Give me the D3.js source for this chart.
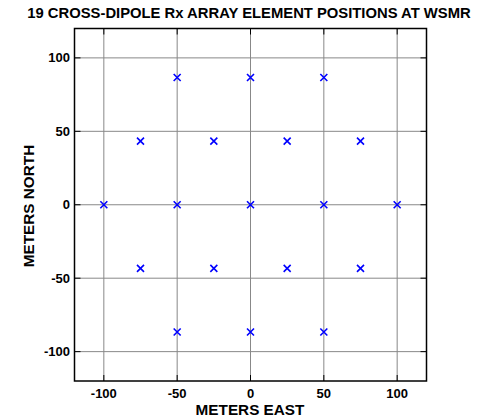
<!DOCTYPE html>
<html>
<head>
<meta charset="utf-8">
<script src="https://cdn.jsdelivr.net/npm/d3@7"></script>
<style>
  html, body { margin: 0; padding: 0; background: #fff; }
  svg { display: block; font-family: "Liberation Sans", Arial, sans-serif; }
</style>
</head>
<body>
<svg id="chart" width="494" height="417"></svg>
<script>
// Receiver element positions (meters east / meters north)
const eastPositions  = [-50, 0, 50, -75, -25, 25, 75, -100, -50, 0, 50, 100, -75, -25, 25, 75, -50, 0, 50];
const northPositions = [86.6, 86.6, 86.6, 43.3, 43.3, 43.3, 43.3, 0, 0, 0, 0, 0, -43.3, -43.3, -43.3, -43.3, -86.6, -86.6, -86.6];
const xTicks = [-100, -50, 0, 50, 100];
const yTicks = [-100, -50, 0, 50, 100];
const titleText = "19 CROSS-DIPOLE Rx ARRAY ELEMENT POSITIONS AT WSMR";
const xLabel = "METERS EAST";
const yLabel = "METERS NORTH";

const svg = d3.select("#chart");
const plotLeft = 74.5, plotRight = 426.5, plotTop = 28.5, plotBottom = 381;

const x = d3.scaleLinear().domain([-120, 120]).range([plotLeft, plotRight]);
const y = d3.scaleLinear().domain([-120, 120]).range([plotBottom, plotTop]);

// grid
svg.append("g").selectAll("line").data(xTicks).join("line")
  .attr("x1", d => x(d)).attr("x2", d => x(d))
  .attr("y1", plotTop).attr("y2", plotBottom)
  .attr("stroke", "#888").attr("stroke-width", 1);
svg.append("g").selectAll("line").data(yTicks).join("line")
  .attr("y1", d => y(d)).attr("y2", d => y(d))
  .attr("x1", plotLeft).attr("x2", plotRight)
  .attr("stroke", "#888").attr("stroke-width", 1);

// inward ticks on all four sides
const tl = 6;
const tickG = svg.append("g").attr("stroke", "#000").attr("stroke-width", 1);
xTicks.forEach(t => {
  tickG.append("line").attr("x1", x(t)).attr("x2", x(t)).attr("y1", plotBottom).attr("y2", plotBottom - tl);
  tickG.append("line").attr("x1", x(t)).attr("x2", x(t)).attr("y1", plotTop).attr("y2", plotTop + tl);
});
yTicks.forEach(t => {
  tickG.append("line").attr("y1", y(t)).attr("y2", y(t)).attr("x1", plotLeft).attr("x2", plotLeft + tl);
  tickG.append("line").attr("y1", y(t)).attr("y2", y(t)).attr("x1", plotRight).attr("x2", plotRight - tl);
});

// box
svg.append("rect").attr("x", plotLeft).attr("y", plotTop)
  .attr("width", plotRight - plotLeft).attr("height", plotBottom - plotTop)
  .attr("fill", "none").attr("stroke", "#000").attr("stroke-width", 1.5);

// markers
const s = 3.5;
svg.append("g").selectAll("path").data(d3.zip(eastPositions, northPositions)).join("path")
  .attr("d", d => `M${x(d[0]) - s},${y(d[1]) - s}L${x(d[0]) + s},${y(d[1]) + s}M${x(d[0]) - s},${y(d[1]) + s}L${x(d[0]) + s},${y(d[1]) - s}`)
  .attr("stroke", "#0000ff").attr("stroke-width", 1.6).attr("fill", "none");

// tick labels
svg.append("g").selectAll("text").data(xTicks).join("text")
  .attr("x", d => x(d)).attr("y", 398)
  .attr("text-anchor", "middle").attr("font-size", 13).attr("font-weight", "bold")
  .text(d => d);
svg.append("g").selectAll("text").data(yTicks).join("text")
  .attr("x", 70).attr("y", d => y(d) + 4.5)
  .attr("text-anchor", "end").attr("font-size", 13).attr("font-weight", "bold")
  .text(d => d);

// titles
svg.append("text").attr("x", 249).attr("y", 18)
  .attr("text-anchor", "middle").attr("font-size", 14.8).attr("font-weight", "bold")
  .text(titleText);
svg.append("text").attr("x", 250).attr("y", 415)
  .attr("text-anchor", "middle").attr("font-size", 15.3).attr("font-weight", "bold")
  .text(xLabel);
svg.append("text").attr("transform", `translate(33.5,206) rotate(-90)`)
  .attr("text-anchor", "middle").attr("font-size", 15.3).attr("font-weight", "bold")
  .text(yLabel);
</script>
</body>
</html>
